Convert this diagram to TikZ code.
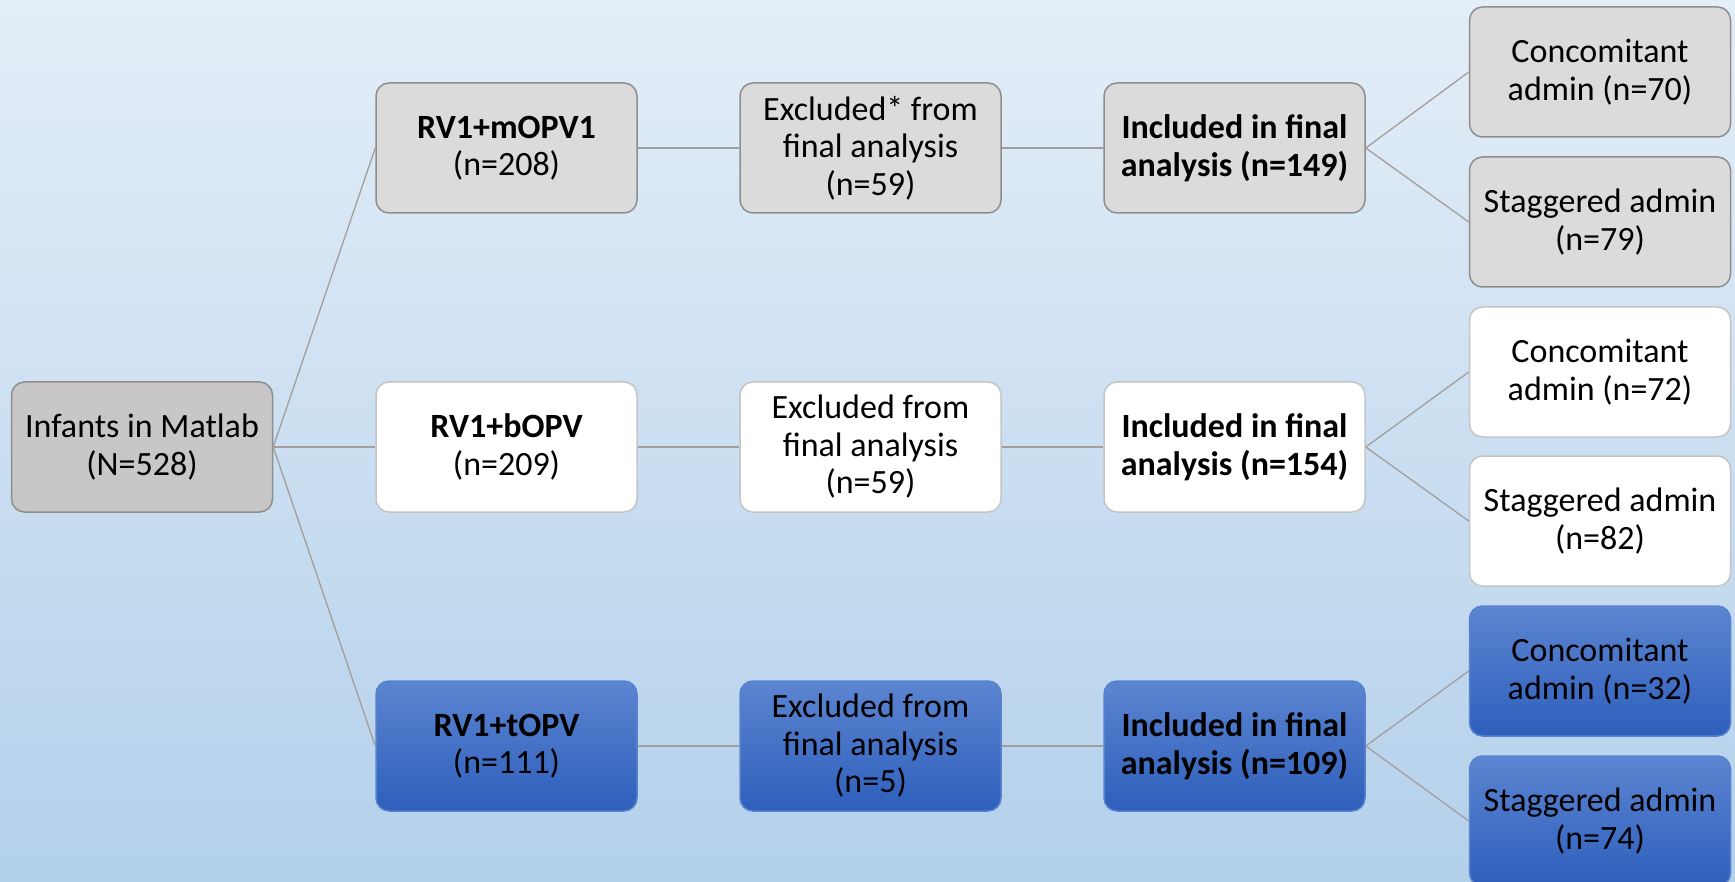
\documentclass[tikz,border=0pt]{standalone}
\usepackage{fontspec}
\setmainfont{Carlito}
\definecolor{bgtop}{HTML}{E4EEF8}
\definecolor{bgbot}{HTML}{B3D0EB}
\definecolor{grayfill}{HTML}{DBDBDB}
\definecolor{rootfill}{HTML}{C8C6C7}
\definecolor{grayline}{HTML}{8E8E8E}
\definecolor{whiteline}{HTML}{C4C4C4}
\definecolor{bluetop}{HTML}{5C85D1}
\definecolor{bluebot}{HTML}{2E5FBC}
\definecolor{blueline}{HTML}{5A82CC}
\definecolor{connc}{HTML}{A39E9B}
\tikzset{
  box/.style={rounded corners=13pt, minimum width=261pt, minimum height=130pt,
    inner sep=0pt, align=center, line width=1.5pt,
    font=\fontsize{34}{37.5}\selectfont},
  rootbox/.style={box, fill=rootfill, draw=grayline},
  graybox/.style={box, fill=grayfill, draw=grayline},
  whitebox/.style={box, fill=white, draw=whiteline},
  bluebox/.style={box, top color=bluetop, bottom color=bluebot, draw=blueline},
  conn/.style={draw=connc, line width=1.3pt}
}
\begin{document}
\begin{tikzpicture}[x=1pt,y=-1pt]
\useasboundingbox (0,0) rectangle (1735,882);
\shade[top color=bgtop, bottom color=bgbot] (0,0) rectangle (1735,882);

\node[rootbox] (root) at (142,447) {Infants in Matlab\\(N=528)};

% row 1
\node[graybox] (a1) at (506.5,148) {\bfseries RV1+mOPV1\\(n=208)};
\node[graybox] (a2) at (870.5,148) {Excluded* from\\final analysis\\(n=59)};
\node[graybox] (a3) at (1234.5,148) {\bfseries Included in final\\\bfseries analysis (n=149)};
\node[graybox] (a4) at (1600,72) {Concomitant\\admin (n=70)};
\node[graybox] (a5) at (1600,222) {Staggered admin\\(n=79)};

% row 2
\node[whitebox] (b1) at (506.5,447) {\bfseries RV1+bOPV\\(n=209)};
\node[whitebox] (b2) at (870.5,447) {Excluded from\\final analysis\\(n=59)};
\node[whitebox] (b3) at (1234.5,447) {\bfseries Included in final\\\bfseries analysis (n=154)};
\node[whitebox] (b4) at (1600,372) {Concomitant\\admin (n=72)};
\node[whitebox] (b5) at (1600,521) {Staggered admin\\(n=82)};

% row 3
\node[bluebox] (c1) at (506.5,746) {\bfseries RV1+tOPV\\(n=111)};
\node[bluebox] (c2) at (870.5,746) {Excluded from\\final analysis\\(n=5)};
\node[bluebox] (c3) at (1234.5,746) {\bfseries Included in final\\\bfseries analysis (n=109)};
\node[bluebox] (c4) at (1600,671) {Concomitant\\admin (n=32)};
\node[bluebox] (c5) at (1600,821) {Staggered admin\\(n=74)};

% connectors
\draw[conn] (root.east) -- (a1.west);
\draw[conn] (root.east) -- (b1.west);
\draw[conn] (root.east) -- (c1.west);
\draw[conn] (a1.east) -- (a2.west);
\draw[conn] (a2.east) -- (a3.west);
\draw[conn] (a3.east) -- (a4.west);
\draw[conn] (a3.east) -- (a5.west);
\draw[conn] (b1.east) -- (b2.west);
\draw[conn] (b2.east) -- (b3.west);
\draw[conn] (b3.east) -- (b4.west);
\draw[conn] (b3.east) -- (b5.west);
\draw[conn] (c1.east) -- (c2.west);
\draw[conn] (c2.east) -- (c3.west);
\draw[conn] (c3.east) -- (c4.west);
\draw[conn] (c3.east) -- (c5.west);
\end{tikzpicture}
\end{document}
